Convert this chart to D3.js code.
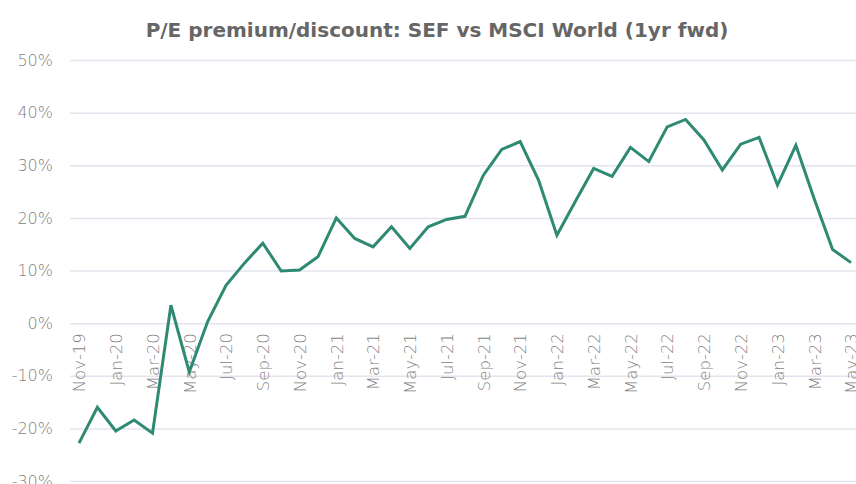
<!DOCTYPE html>
<html lang="en">
<head>
   <meta charset="UTF-8">
   <title>P/E premium/discount</title>
   <style>
      html, body {
         margin: 0;
         padding: 0;
         background: #fff;
         overflow: hidden;
      }

      text {
         font-family: 'DejaVu Sans', sans-serif;
      }

      .title {
         font-weight: bold;
         fill: #666;
      }

      .tick text {
         font-size: 16px;
         font-weight: 200;
         fill: #7f7f7f;
      }

      .x-axis .tick text {
         font-size: 16.5px;
      }

      .grid line {
         stroke: #e4e4ee;
         stroke-width: 1.5;
      }
   </style>
   <script src="https://cdn.jsdelivr.net/npm/d3@7"></script>
</head>
<body>
   <svg id="chart" width="856" height="484"></svg>
   <script>
      // monthly, Nov-19 .. May-23
      const months = [
         'Nov-19', 'Dec-19', 'Jan-20', 'Feb-20', 'Mar-20', 'Apr-20', 'May-20', 'Jun-20',
         'Jul-20', 'Aug-20', 'Sep-20', 'Oct-20', 'Nov-20', 'Dec-20', 'Jan-21', 'Feb-21',
         'Mar-21', 'Apr-21', 'May-21', 'Jun-21', 'Jul-21', 'Aug-21', 'Sep-21', 'Oct-21',
         'Nov-21', 'Dec-21', 'Jan-22', 'Feb-22', 'Mar-22', 'Apr-22', 'May-22', 'Jun-22',
         'Jul-22', 'Aug-22', 'Sep-22', 'Oct-22', 'Nov-22', 'Dec-22', 'Jan-23', 'Feb-23',
         'Mar-23', 'Apr-23', 'May-23'
      ]
      const premium = [
         -22.8, -16.0, -20.5, -18.4, -20.9, 3.4, -9.3, 0.3,
         7.2, 11.4, 15.2, 9.9, 10.1, 12.6, 20.0, 16.1,
         14.5, 18.3, 14.2, 18.3, 19.7, 20.3, 28.1, 33.0,
         34.5, 27.2, 16.7, 23.1, 29.4, 27.9, 33.4, 30.7,
         37.3, 38.7, 34.8, 29.1, 34.0, 35.3, 26.2, 33.8,
         23.6, 14.0, 11.5
      ]
      const yTicks = [-30, -20, -10, 0, 10, 20, 30, 40, 50]
      const titleText = 'P/E premium/discount:  SEF vs MSCI World (1yr fwd)'

      const svg = d3.select('#chart')

      const xScale = d3.scalePoint()
         .domain(months)
         .range([79, 851])

      const yScale = d3.scaleLinear()
         .domain([-30, 50])
         .range([481, 60])

      // title, sized to the reference width
      const title = svg.append('text')
         .attr('class', 'title')
         .attr('x', 437)
         .attr('y', 37)
         .attr('text-anchor', 'middle')
         .style('font-size', '18px')
         .text(titleText)

      const TITLE_WIDTH = 583
      const w = title.node().getComputedTextLength()
      title.style('font-size', `${18 * TITLE_WIDTH / w}px`)

      // y axis + grid
      const yAxis = d3.axisLeft(yScale)
         .tickValues(yTicks)
         .tickSize(-786)
         .tickPadding(17)
         .tickFormat(d => d + '%')

      const yAxisGroup = svg.append('g')
         .attr('class', 'grid')
         .attr('transform', 'translate(70, 0)')
         .call(yAxis)

      yAxisGroup.select('.domain').remove()

      // x labels, every second month
      const xAxis = d3.axisBottom(xScale)
         .tickValues(months.filter((m, i) => i % 2 === 0))
         .tickSize(0)
         .tickPadding(0)

      const xAxisGroup = svg.append('g')
         .attr('class', 'x-axis')
         .attr('transform', `translate(0, ${yScale(0) + 10})`)
         .call(xAxis)

      xAxisGroup.select('.domain').remove()
      xAxisGroup.selectAll('text')
         .attr('transform', 'rotate(-90)')
         .attr('text-anchor', 'end')
         .attr('x', 0)
         .attr('y', 0)
         .attr('dy', '0.35em')

      // line
      const line = d3.line()
         .x((d, i) => xScale(months[i]))
         .y(d => yScale(d))

      svg.append('path')
         .datum(premium)
         .attr('fill', 'none')
         .attr('stroke', '#2f8a73')
         .attr('stroke-width', 3)
         .attr('stroke-linejoin', 'miter')
         .attr('d', line)
   </script>
</body>
</html>
